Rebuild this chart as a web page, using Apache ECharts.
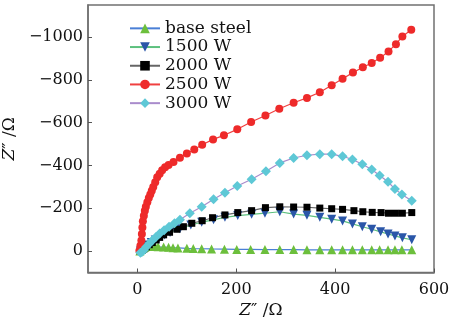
<!DOCTYPE html>
<html><head><meta charset="utf-8">
<script src="https://cdn.jsdelivr.net/npm/echarts@6/dist/echarts.min.js"></script>
<style>html,body{margin:0;padding:0;background:#fff}#c{width:452px;height:320px}</style>
</head><body><div id="c"></div>
<script>
var seriesNames = ['base steel', '1500 W', '2000 W', '2500 W', '3000 W'];
var xTicks = [0, 200, 400, 600];
var yTicks = [0, 200, 400, 600, 800, 1000];
// values are -Z'' (plotted upward)
var baseSteel = [[5,0],[8,8],[11,14],[15,18],[20,21],[25,22],[30,22],[36,21],[42,20],[53,19],[63,18],[72,16],[82,15],[100,13],[113,12],[130,11],[150,10],[176,9],[201,8],[229,8],[258,7],[288,7],[316,7],[343,6],[369,6],[393,6],[415,6],[435,6],[455,6],[474,6],[490,6],[507,6],[521,6],[535,6],[555,6]];
var w1500 = [[6,0],[10,7],[15,17],[21,28],[28,40],[36,52],[45,63],[55,75],[66,87],[86,104],[108,122],[130,135],[154,146],[177,158],[203,166],[231,172],[258,177],[288,184],[316,173],[343,167],[369,158],[393,149],[415,141],[435,127],[455,114],[474,102],[492,90],[507,80],[521,71],[536,62],[555,53]];
var w2000 = [[6,0],[9,3],[13,10],[18,20],[24,30],[30,40],[38,52],[45,64],[53,76],[65,88],[80,102],[93,114],[110,130],[131,142],[152,156],[177,169],[203,180],[231,189],[259,203],[288,207],[316,206],[343,205],[369,201],[393,198],[415,195],[438,189],[456,184],[475,181],[493,180],[508,177],[522,177],[536,177],[555,180]];
var w2500 = [[4,2],[6,25],[8,50],[9,80],[10,110],[11,140],[13,165],[15,188],[17,207],[20,228],[23,248],[26,265],[29,282],[32,300],[36,322],[40,345],[45,362],[50,378],[56,392],[63,402],[73,416],[86,436],[100,456],[115,475],[131,497],[153,522],[175,541],[202,569],[230,603],[259,634],[287,665],[316,693],[343,716],[369,742],[393,775],[415,805],[436,834],[456,859],[474,879],[491,903],[508,933],[523,967],[536,1003],[554,1034]];
var w3000 = [[6,-8],[9,-4],[13,5],[18,20],[24,35],[30,50],[37,65],[45,82],[54,98],[64,114],[75,130],[86,146],[106,177],[130,207],[154,242],[177,273],[202,304],[231,336],[260,373],[288,412],[316,435],[343,448],[369,453],[393,453],[415,443],[435,428],[455,406],[474,381],[490,353],[507,324],[521,290],[535,265],[555,235]];

var font = "'DejaVu Serif', serif";
function mk(name, data, symbol, size, markerColor, lineColor) {
  return {
    name: name, type: 'line', data: data, symbol: symbol, symbolSize: size,
    showAllSymbol: true, animation: false,
    itemStyle: { color: markerColor, borderWidth: 0 },
    lineStyle: { color: lineColor, width: 1.2 },
    emphasis: { disabled: true }
  };
}
var chart = echarts.init(document.getElementById('c'), null, { renderer: 'canvas' });
chart.setOption({
  animation: false,
  backgroundColor: '#fff',
  grid: { left: 88, top: 5, right: 18, bottom: 47.5, show: true, borderColor: '#707070', borderWidth: 1.5, containLabel: false, outerBoundsMode: 'none' },
  legend: {
    data: seriesNames, orient: 'vertical', left: 124, top: 14, itemWidth: 30, itemHeight: 12, itemGap: 0,
    textStyle: { fontFamily: font, fontSize: 17, color: '#111', lineHeight: 18.7 }
  },
  xAxis: {
    type: 'value', min: -100, max: 600,
    name: '{i|Z}″ /Ω', nameLocation: 'middle', nameGap: 27,
    nameTextStyle: { fontFamily: font, fontSize: 17, color: '#111', rich: { i: { fontFamily: font, fontStyle: 'italic', fontSize: 17, color: '#111' } } },
    axisLine: { onZero: false, lineStyle: { color: '#707070', width: 1.5 } },
    axisTick: { inside: true, length: 4, customValues: xTicks, lineStyle: { color: '#555' } },
    axisLabel: { customValues: xTicks, margin: 9, fontFamily: font, fontSize: 16, color: '#111' },
    splitLine: { show: false }
  },
  yAxis: {
    type: 'value', min: -100, max: 1150,
    name: '{i|Z}″ /Ω', nameLocation: 'middle', nameGap: 61,
    nameTextStyle: { fontFamily: font, fontSize: 17, color: '#111', rich: { i: { fontFamily: font, fontStyle: 'italic', fontSize: 17, color: '#111' } } },
    axisLine: { onZero: false, lineStyle: { color: '#707070', width: 1.5 } },
    axisTick: { inside: true, length: 4, customValues: yTicks, lineStyle: { color: '#555' } },
    axisLabel: { customValues: yTicks, margin: 5, fontFamily: font, fontSize: 16, color: '#111',
      formatter: function (v) { return v === 0 ? '0' : '\u2212' + v; } },
    splitLine: { show: false }
  },
  series: [
    mk(seriesNames[0], baseSteel, 'triangle', 9, '#6cbf3c', '#4a7fd6'),
    mk(seriesNames[1], w1500, 'path://M0,0 L10,0 L5,9 Z', 9, '#2a56a8', '#5cc07e'),
    mk(seriesNames[2], w2000, 'rect', 7, '#000', '#666'),
    mk(seriesNames[3], w2500, 'circle', 8, '#ee2a2a', '#f04040'),
    mk(seriesNames[4], w3000, 'diamond', 10, '#5ec8d6', '#a98ccc')
  ]
});
</script></body></html>
